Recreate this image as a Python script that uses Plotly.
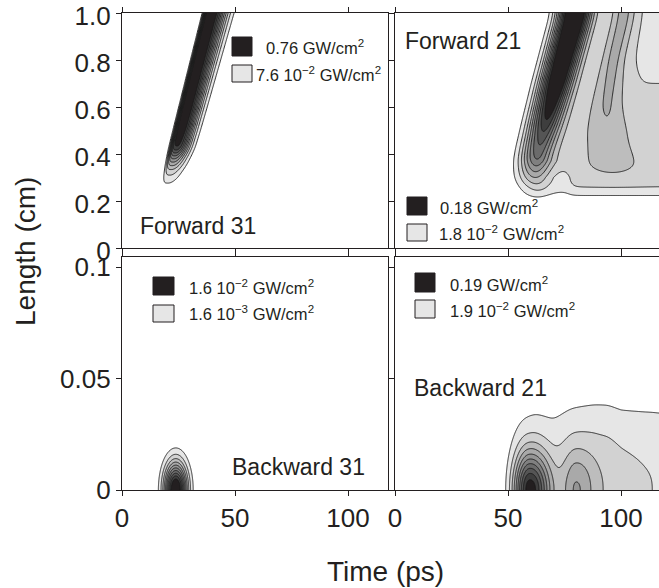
import numpy as np
import plotly.graph_objects as go

# ---------------- axes / labels ----------------
TIME_TICKS = [0, 50, 100]
TIME_LABELS = ["0", "50", "100"]
FWD_LEN_TICKS = [0, 0.2, 0.4, 0.6, 0.8, 1.0]
FWD_LEN_LABELS = ["0", "0.2", "0.4", "0.6", "0.8", "1.0"]
BWD_LEN_TICKS = [0, 0.05, 0.1]
BWD_LEN_LABELS = ["0", "0.05", "0.1"]

PANEL_NAMES = ["Forward 31", "Forward 21", "Backward 31", "Backward 21"]
# lowest and highest contour level of every panel (GW/cm^2); ten equal steps
LEVEL_LOW = [0.076, 0.018, 0.0016, 0.019]
LEVEL_HIGH = [0.76, 0.18, 0.016, 0.19]
LEGEND_HIGH = ["0.76 GW/cm<sup>2</sup>", "0.18 GW/cm<sup>2</sup>",
               "1.6 10<sup>\u22122</sup> GW/cm<sup>2</sup>", "0.19 GW/cm<sup>2</sup>"]
LEGEND_LOW = ["7.6 10<sup>\u22122</sup> GW/cm<sup>2</sup>", "1.8 10<sup>\u22122</sup> GW/cm<sup>2</sup>",
              "1.6 10<sup>\u22123</sup> GW/cm<sup>2</sup>", "1.9 10<sup>\u22122</sup> GW/cm<sup>2</sup>"]

# ---------------- pulse-model parameters (time in ps, length in cm) ----------------
# Forward 31: single narrow walk-off streak
F31_AMP_L = [0.20, 0.24, 0.28, 0.33, 0.38, 0.43, 0.50, 0.60, 1.00]
F31_AMP = [0.0, 0.03, 0.076, 0.20, 0.45, 0.77, 0.85, 0.88, 0.90]
F31_PEAK_L = [0.20, 1.00]
F31_PEAK_T = [18.4, 39.2]
F31_WR_L = [0.30, 1.00]
F31_WR = [5.0, 6.6]

# Forward 21: main streak, secondary ridge and low plateau
F21_MAIN_L = [0.18, 0.226, 0.26, 0.30, 0.38, 0.47, 0.55, 0.70, 1.00]
F21_MAIN_AMP = [0.0, 0.016, 0.032, 0.06, 0.11, 0.135, 0.165, 0.21, 0.245]
F21_MAIN_CL = [0.18, 0.30, 0.40, 0.60, 1.00]
F21_MAIN_CT = [61.0, 60.5, 62.0, 68.0, 79.5]
F21_MAIN_W = [7.0, 7.0, 6.8, 6.8, 6.8]
F21_SEC_L = [0.27, 0.35, 0.45, 0.60, 0.80, 1.00]
F21_SEC_CT = [96.0, 96.5, 94.0, 93.5, 96.5, 101.5]
F21_SEC_W = [15.0, 15.0, 11.5, 7.5, 5.5, 5.5]
F21_SEC_AMP = [0.0, 0.021, 0.025, 0.036, 0.043, 0.048]
F21_SHELF_L = [0.19, 0.226, 0.25, 0.28, 0.35, 0.50, 0.70, 1.00]
F21_SHELF_AMP = [0.0, 0.019, 0.034, 0.040, 0.041, 0.040, 0.036, 0.031]
F21_NOTCH_T = 77.0          # dip of the plateau next to the main streak
F21_NOTCH_L = [0.30, 0.37]
F21_NOTCH_DEPTH = [0.35, 0.0]

# Backward 31: single reflected bump
B31_AMP = 0.019
B31_CT = 23.8
B31_WT = 4.9
B31_SL = 0.012

# Backward 21: two lobes on a flat-topped plateau
B21_LOBE_AMP = [0.17, 0.05]
B21_LOBE_CT = [59.5, 80.0]
B21_LOBE_WL = [6.5, 6.0]
B21_LOBE_WR = [8.8, 8.0]
B21_LOBE_SL = [0.0165, 0.018]
B21_SHELF_T = [46, 49, 52, 56, 62, 70, 78, 88, 94, 100, 105, 110, 114, 118]
B21_SHELF_AMP = [0.0, 0.006, 0.016, 0.028, 0.036, 0.034, 0.045, 0.052, 0.052,
                 0.045, 0.042, 0.0395, 0.038, 0.036]
B21_SHELF_LC_T = [0, 100, 118]
B21_SHELF_LC = [0.038, 0.038, 0.041]

INK = "#231f20"
FONT = "Liberation Sans, Arial, Helvetica, sans-serif"
GRAYS = ["#ffffff", "#e6e6e6", "#d2d2d2", "#bdbdbd", "#a9a9a9", "#959595",
         "#808080", "#6b6b6b", "#555555", "#3e3e3e", "#231f20"]
GRAY_SCALE = [[i / 10, c] for i, c in enumerate(GRAYS)]

W, H = 659, 588


def smooth_track(grid, knots, values, sigma):
    raw = np.interp(grid, knots, values)
    step = grid[1] - grid[0]
    n = int(3 * sigma / step) + 1
    k = np.exp(-0.5 * ((np.arange(-n, n + 1) * step) / sigma) ** 2)
    k /= k.sum()
    return np.convolve(np.pad(raw, n, mode="edge"), k, mode="valid")


def pulse(t, center, wl, wr, pl=2.0, pr=2.0):
    d = t - center
    return np.where(d < 0, np.exp(-np.abs(d / wl) ** pl), np.exp(-np.abs(d / wr) ** pr))


def sig(x):
    return 1.0 / (1.0 + np.exp(-x))


t = np.arange(0, 118.01, 0.3)
Lf = np.arange(0, 1.0041, 0.004)
Lb = np.arange(0, 0.05, 0.0002)
T = t[None, :]

# Forward 31
a = smooth_track(Lf, F31_AMP_L, F31_AMP, 0.012)[:, None]
p = np.interp(Lf, F31_PEAK_L, F31_PEAK_T)[:, None]
wr = np.interp(Lf, F31_WR_L, F31_WR)[:, None]
z_f31 = a * pulse(T, p, 3.0, wr, pl=4.0)

# Forward 21
am = smooth_track(Lf, F21_MAIN_L, F21_MAIN_AMP, 0.012)[:, None]
cm = smooth_track(Lf, F21_MAIN_CL, F21_MAIN_CT, 0.03)[:, None]
wm = np.interp(Lf, F21_MAIN_CL, F21_MAIN_W)[:, None]
main = am * pulse(T, cm, wm, wm)
a2 = smooth_track(Lf, F21_SEC_L, F21_SEC_AMP, 0.02)[:, None]
c2 = smooth_track(Lf, F21_SEC_L, F21_SEC_CT, 0.04)[:, None]
w2 = smooth_track(Lf, F21_SEC_L, F21_SEC_W, 0.03)[:, None]
sec = a2 * pulse(T, c2, w2, w2)
depth = np.interp(Lf, F21_NOTCH_L, F21_NOTCH_DEPTH)[:, None]
shelf_t = sig((T - cm - 1.0) / 2.0) * (1.0 - depth * (1.0 - sig((T - F21_NOTCH_T) / 1.2)))
sh = smooth_track(Lf, F21_SHELF_L, F21_SHELF_AMP, 0.01)[:, None] * shelf_t
z_f21 = main + sec + sh

# Backward 31
z_b31 = B31_AMP * np.exp(-((T - B31_CT) / B31_WT) ** 2) * np.exp(-(Lb[:, None] / B31_SL) ** 2)

# Backward 21
lc = np.interp(t, B21_SHELF_LC_T, B21_SHELF_LC)[None, :]
z_b21 = smooth_track(t, B21_SHELF_T, B21_SHELF_AMP, 1.5)[None, :] * \
    np.exp(-(Lb[:, None] / lc) ** 2.5)
for amp, ct, wl_, wr_, sl in zip(B21_LOBE_AMP, B21_LOBE_CT, B21_LOBE_WL, B21_LOBE_WR, B21_LOBE_SL):
    z_b21 = z_b21 + amp * pulse(T, ct, wl_, wr_) * np.exp(-(Lb[:, None] / sl) ** 2)

fields = [(Lf, z_f31), (Lf, z_f21), (Lb, z_b31), (Lb, z_b21)]

fig = go.Figure()
for i, (ygrid, z) in enumerate(fields):
    fig.add_trace(go.Contour(
        x=np.round(t, 2), y=np.round(ygrid, 5), z=np.round(z, 6),
        xaxis="x" if i == 0 else f"x{i + 1}", yaxis="y" if i == 0 else f"y{i + 1}",
        autocontour=False,
        contours=dict(start=LEVEL_LOW[i], end=LEVEL_HIGH[i], size=LEVEL_LOW[i],
                      coloring="fill", showlines=True),
        colorscale=GRAY_SCALE, showscale=False,
        line=dict(color="#1a1a1a", width=0.9, smoothing=1),
        hoverinfo="skip"))


def px_x(px):
    return px / W


def px_y(py):
    return 1 - py / H


COL = [(122, 388), (395, 659)]
ROW = [(13, 248), (257, 490)]
XR = [[0, 117.7], [0, 116.8]]
YR = [[0, 1.0008], [0, 0.1045]]


def axis_base(**kw):
    d = dict(showline=True, linecolor=INK, linewidth=1.3, mirror="ticks", ticks="outside",
             ticklen=5, tickwidth=1.2, tickcolor=INK, showgrid=False, zeroline=False,
             automargin=False, ticklabeloverflow="allow",
             tickfont=dict(size=26, family=FONT, color=INK))
    d.update(kw)
    return d


layout_axes = {}
for i in range(4):
    r, c = divmod(i, 2)
    sx = "" if i == 0 else str(i + 1)
    layout_axes[f"xaxis{sx}"] = axis_base(
        domain=[px_x(COL[c][0]), px_x(COL[c][1])], range=XR[c], anchor=f"y{sx}",
        tickvals=TIME_TICKS, ticktext=TIME_LABELS, showticklabels=(r == 1))
    layout_axes[f"yaxis{sx}"] = axis_base(
        domain=[px_y(ROW[r][1]), px_y(ROW[r][0])], range=YR[r], anchor=f"x{sx}",
        tickvals=FWD_LEN_TICKS if r == 0 else BWD_LEN_TICKS,
        ticktext=FWD_LEN_LABELS if r == 0 else BWD_LEN_LABELS,
        showticklabels=(c == 0))
# nudge the upper length labels down so the top one stays inside the page
layout_axes["yaxis"]["ticklabelshift"] = 3

# legend boxes: (black box x0, y0, x1, y1, gray box y0, y1), text positions
LEG_BOX = [(232, 37, 252, 56, 65, 82), (407, 197, 427, 215, 224, 241),
           (153, 277, 174, 295, 305, 322), (415, 273, 435, 292, 300, 318)]
LEG_TEXT = [((264, 47), (254, 74)), ((438, 207), (437, 233)),
            ((187, 287), (187, 313)), ((448, 284), (448, 310))]
NAME_POS = [(138, 226), (403, 41), (230, 467), (412, 388)]

shapes, annotations = [], []
for i in range(4):
    x0, y0, x1, y1, gy0, gy1 = LEG_BOX[i]
    shapes.append(dict(type="rect", xref="paper", yref="paper", x0=px_x(x0), x1=px_x(x1),
                       y0=px_y(y1), y1=px_y(y0), fillcolor=GRAYS[10], line=dict(color=INK, width=1)))
    shapes.append(dict(type="rect", xref="paper", yref="paper", x0=px_x(x0), x1=px_x(x1),
                       y0=px_y(gy1), y1=px_y(gy0), fillcolor=GRAYS[1], line=dict(color=INK, width=1)))
    for (tx, ty), txt in zip(LEG_TEXT[i], (LEGEND_HIGH[i], LEGEND_LOW[i])):
        annotations.append(dict(xref="paper", yref="paper", x=px_x(tx), y=px_y(ty), text=txt,
                                showarrow=False, xanchor="left", yanchor="middle",
                                font=dict(size=16.5, family=FONT, color=INK)))
    nx, ny = NAME_POS[i]
    annotations.append(dict(xref="paper", yref="paper", x=px_x(nx), y=px_y(ny), text=PANEL_NAMES[i],
                            showarrow=False, xanchor="left", yanchor="middle",
                            font=dict(size=23, family=FONT, color=INK)))

annotations.append(dict(xref="paper", yref="paper", x=px_x(385), y=px_y(571), text="Time (ps)",
                        showarrow=False, xanchor="center", yanchor="middle",
                        font=dict(size=28, family=FONT, color=INK)))
annotations.append(dict(xref="paper", yref="paper", x=px_x(25), y=px_y(252), text="Length (cm)",
                        showarrow=False, xanchor="center", yanchor="middle", textangle=-90,
                        font=dict(size=28, family=FONT, color=INK)))

fig.update_layout(width=W, height=H, margin=dict(l=0, r=0, t=0, b=0, pad=0, autoexpand=False),
                  paper_bgcolor="white", plot_bgcolor="white", showlegend=False,
                  font=dict(family=FONT, color=INK), shapes=shapes, annotations=annotations,
                  **layout_axes)

fig.write_html("out.html")
